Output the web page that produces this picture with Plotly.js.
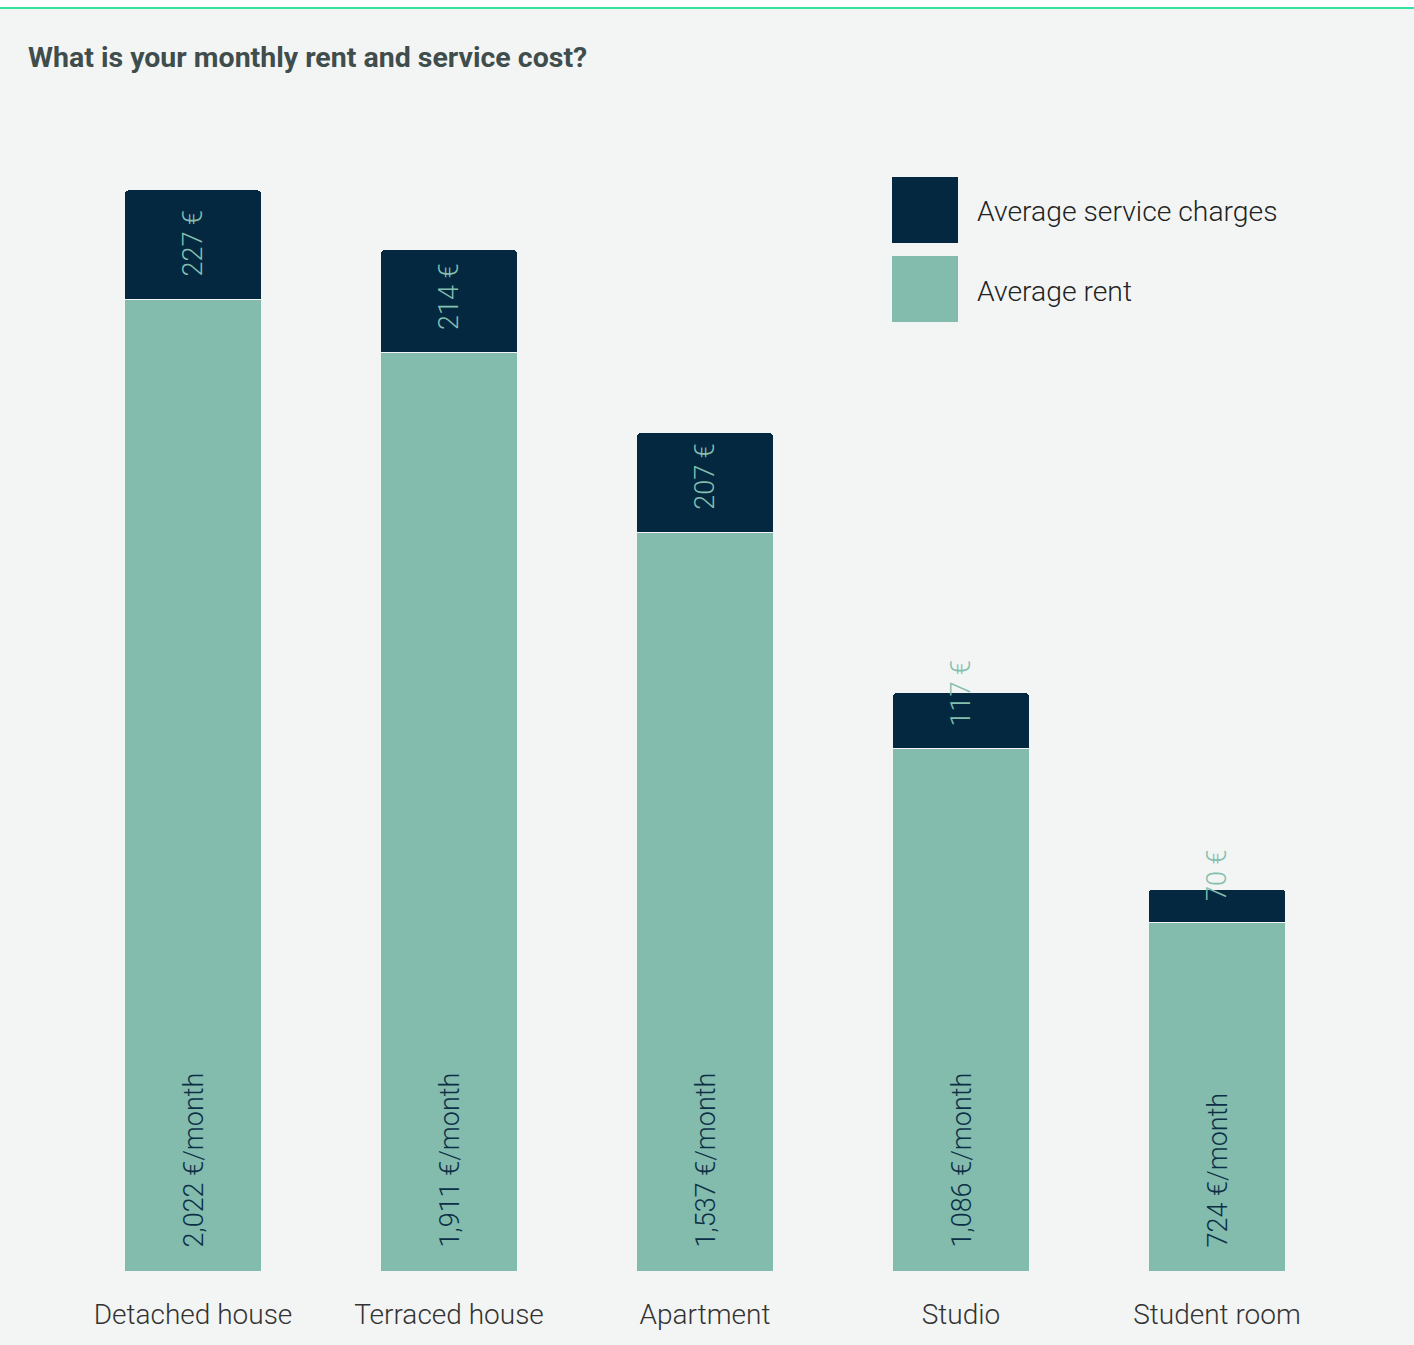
<!DOCTYPE html>
<html>
<head>
<meta charset="utf-8">
<script src="https://cdn.plot.ly/plotly-3.0.1.min.js"></script>
<style>
  html, body { margin: 0; padding: 0; background: #ffffff; }
  #wrap { position: relative; width: 1414px; height: 1345px; }
  #chart { position: absolute; left: 0; top: 0; width: 1414px; height: 1345px; }
  #topwhite { position: absolute; left: 0; top: 0; width: 1414px; height: 7px; background: #ffffff; z-index: 2; }
  #topline { position: absolute; left: 0; top: 7px; width: 1414px; height: 2px; background: #33e39b; z-index: 2; }
</style>
</head>
<body>
<div id="wrap">
  <div id="chart"></div>
  <div id="topwhite"></div>
  <div id="topline"></div>
</div>
<script>
// ---- data ----
const categories = ["Detached house", "Terraced house", "Apartment", "Studio", "Student room"];
const rentValues = [2022, 1911, 1537, 1086, 724];
const serviceValues = [227, 214, 207, 117, 70];
const rentLabels = ["2,022 €/month", "1,911 €/month", "1,537 €/month", "1,086 €/month", "724 €/month"];
const serviceLabels = ["227 €", "214 €", "207 €", "117 €", "70 €"];
const seriesNames = ["Average service charges", "Average rent"];
const chartTitle = "What is your monthly rent and service cost?";

// ---- styles ----
const W = 1414, H = 1345;
const M = { l: 65, r: 69, t: 150, b: 74 };
const BG = "#f3f5f4";
const NAVY = "#032840";
const TEAL = "#83bbad";
const FONT = "Roboto, 'Noto Sans', sans-serif";

const plotW = W - M.l - M.r, plotH = H - M.t - M.b;
const px2x = px => (px - M.l) / plotW;
const px2y = py => 1 - (py - M.t) / plotH;

const rentTrace = {
  type: "bar", name: seriesNames[1], x: categories, y: rentValues,
  marker: { color: TEAL, line: { color: BG, width: 1 } },
  hoverinfo: "x+y", showlegend: false
};
const serviceTrace = {
  type: "bar", name: seriesNames[0], x: categories, y: serviceValues,
  marker: { color: NAVY, line: { color: BG, width: 1 } },
  hoverinfo: "x+y", showlegend: false
};

const annotations = [];
categories.forEach((c, i) => {
  annotations.push({
    x: c, y: 0, xref: "x", yref: "y", yshift: 21,
    text: rentLabels[i], textangle: -90, showarrow: false,
    xanchor: "center", yanchor: "bottom",
    font: { family: FONT, size: 27, color: "#0b3046", weight: 300 }
  });
  annotations.push({
    x: c, y: rentValues[i], xref: "x", yref: "y", yshift: 20,
    text: serviceLabels[i], textangle: -90, showarrow: false,
    xanchor: "center", yanchor: "bottom",
    font: { family: FONT, size: 27, color: "#84bfae", weight: 300 }
  });
});

// custom legend
const legendItems = [
  { name: seriesNames[0], color: NAVY, top: 177 },
  { name: seriesNames[1], color: TEAL, top: 256 }
];
const shapes = [];
legendItems.forEach(it => {
  shapes.push({
    type: "rect", xref: "paper", yref: "paper",
    x0: px2x(892), x1: px2x(958), y0: px2y(it.top + 66), y1: px2y(it.top),
    fillcolor: it.color, line: { width: 0 }
  });
  annotations.push({
    xref: "paper", yref: "paper", x: px2x(975), y: px2y(it.top + 35),
    xanchor: "left", yanchor: "middle", showarrow: false,
    text: it.name, font: { family: FONT, size: 28.3, color: "#222222", weight: 300 }
  });
});

const layout = {
  width: W, height: H,
  margin: M,
  paper_bgcolor: BG, plot_bgcolor: BG,
  barmode: "stack", bargap: 0.465, barcornerradius: 4,
  font: { family: FONT, color: "#333333" },
  title: {
    text: chartTitle, x: 28 / W, xanchor: "left", xref: "container",
    y: 1 - 57 / H, yanchor: "middle", yref: "container",
    font: { family: FONT, size: 28.5, color: "#3f4d4d", weight: 700 }
  },
  xaxis: {
    type: "category", range: [-0.5, 4.5], showgrid: false, zeroline: false,
    showline: false, ticks: "", ticklabelstandoff: 24,
    tickfont: { family: FONT, size: 28, color: "#333333", weight: 300 },
    fixedrange: true
  },
  yaxis: {
    range: [0, 2332], showgrid: false, zeroline: false, showline: false,
    showticklabels: false, ticks: "", fixedrange: true
  },
  showlegend: false,
  annotations: annotations,
  shapes: shapes
};

Plotly.newPlot("chart", [rentTrace, serviceTrace], layout, { displayModeBar: false, staticPlot: true });
</script>
</body>
</html>
